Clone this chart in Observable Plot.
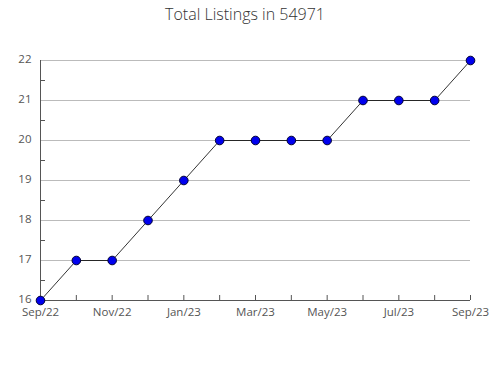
<!DOCTYPE html>
<html><head><meta charset="utf-8">
<script src="https://cdn.jsdelivr.net/npm/d3@7"></script>
<script src="https://cdn.jsdelivr.net/npm/@observablehq/plot@0.6"></script>
<style>
body{margin:0;background:#fff;font-family:"Open Sans",sans-serif;}
#wrap{position:relative;width:490px;height:380px;}
#title{position:absolute;top:3px;left:0;width:490px;text-align:center;font-size:16px;color:#333;font-weight:300;}
</style></head>
<body><div id="wrap"><div id="title">Total Listings in 54971</div></div>
<script>
const months = ["Sep/22","Oct/22","Nov/22","Dec/22","Jan/23","Feb/23","Mar/23","Apr/23","May/23","Jun/23","Jul/23","Aug/23","Sep/23"];
const listings = [16,17,17,18,19,20,20,20,20,21,21,21,22];
const labeledMonths = ["Sep/22","Nov/22","Jan/23","Mar/23","May/23","Jul/23","Sep/23"];
const yTicks = [16,17,18,19,20,21,22];
const yMinor = [16.5,17.5,18.5,19.5,20.5,21.5];

const data = months.map((m,i)=>({idx:i, month:m, value:listings[i]}));
const monthIdx = months.map((m,i)=>i);
const labeledIdx = labeledMonths.map(m=>months.indexOf(m));

const chart = Plot.plot({
  width: 490, height: 380,
  marginLeft: 40, marginRight: 20, marginTop: 60, marginBottom: 80,
  style: {fontFamily: '"Open Sans", sans-serif', fontSize: "11.5px", color: "#555", background: "transparent"},
  x: {type: "linear", domain: [0, months.length - 1], inset: 0},
  y: {domain: [16, 22], inset: 0},
  marks: [
    Plot.gridY(yTicks, {stroke: "#bbb", strokeOpacity: 1}),
    Plot.tickX(monthIdx, {x: d=>d, stroke: "#555", insetTop: 235}),
    Plot.tickY(yMinor, {y: d=>d, stroke: "#555", insetRight: 425}),
    Plot.ruleX([0], {stroke: "#555"}),
    Plot.ruleY([16], {stroke: "#555"}),
    Plot.axisY(yTicks, {tickSize: 0, tickPadding: 9, dy: -1.5, label: null, fill: "#555"}),
    Plot.axisX(labeledIdx, {tickSize: 0, tickPadding: 7, label: null, fill: "#555", tickFormat: i => months[i]}),
    Plot.line(data, {x: "idx", y: "value", stroke: "#000", strokeWidth: 0.8}),
    Plot.dot(data, {x: "idx", y: "value", r: 4.3, fill: "#0000ee", stroke: "#000033", strokeWidth: 1})
  ]
});
document.getElementById("wrap").appendChild(chart);
chart.style.position="absolute"; chart.style.top="0"; chart.style.left="0";
</script></body></html>
